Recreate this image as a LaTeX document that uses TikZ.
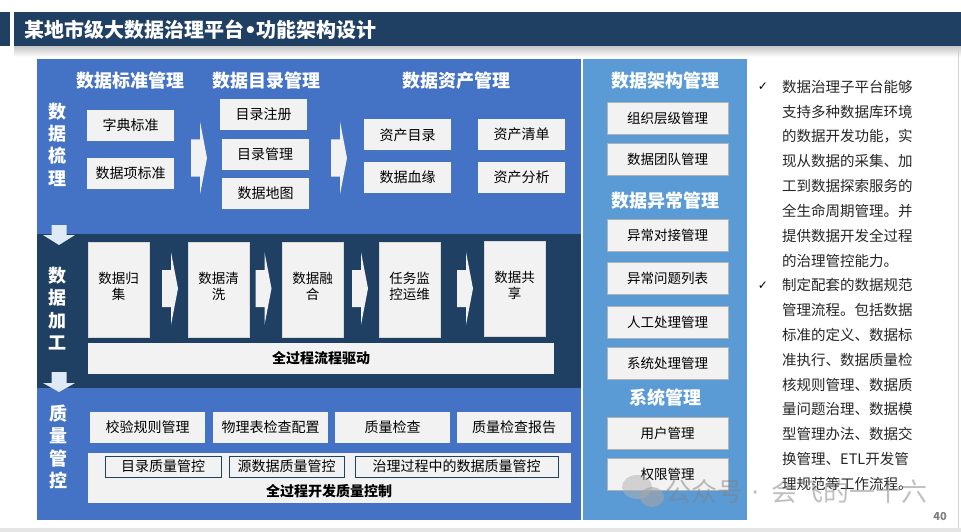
\documentclass[tikz,border=0pt]{standalone}
\usepackage{fontspec}
\setmainfont{Noto Sans CJK SC}
\newfontfamily\symfont{DejaVu Sans}
\usetikzlibrary{shadows}
\definecolor{navy}{HTML}{1F3F63}
\definecolor{panelblue}{HTML}{4472C4}
\definecolor{sideblue}{HTML}{5B9BD5}
\definecolor{boxgray}{HTML}{F2F2F2}
\definecolor{arrowblue}{HTML}{DEEBF7}
\newcommand\fsz[1]{\fontsize{#1}{#1}\selectfont}
\begin{document}
\begin{tikzpicture}[
  x=1pt,y=-1pt,
  head/.style={text=white, font=\fsz{18}\bfseries, inner sep=0pt},
  side/.style={text=white, font=\fontsize{18}{22.3}\selectfont\bfseries, align=center, inner sep=0pt},
  item/.style={fill=boxgray, minimum width=87pt, minimum height=31pt, inner sep=0pt, font=\fsz{14},
    drop shadow={opacity=.15, shadow xshift=1pt, shadow yshift=-1.5pt}},
  stage/.style={fill=boxgray, draw=gray!30, minimum width=61pt, minimum height=95pt, inner sep=0pt},
  stagetxt/.style={font=\fontsize{13.5}{16}\selectfont, align=center, inner sep=0pt},
  qitem/.style={fill=boxgray, minimum width=115pt, minimum height=31pt, inner sep=0pt, font=\fsz{14}},
  subbox/.style={fill=boxgray, draw=navy, line width=1pt, minimum height=21pt, inner sep=0pt, font=\fsz{14}},
  ritem/.style={fill=boxgray, draw=gray!60, line width=.8pt, minimum width=121pt, minimum height=32pt, inner sep=0pt, font=\fsz{13.5}},
  note/.style={font=\fsz{14.5}, text=black!85, inner sep=0pt, anchor=west},
  chev/.pic={\fill[boxgray] (-8,-18.5) -- (1,-18.5) -- (1,-36.5) -- (8,0) -- (1,36.5) -- (1,18.5) -- (-8,18.5) -- cycle;}
]
\useasboundingbox (0,0) rectangle (961,532);
\fill[white] (0,0) rectangle (961,532);

\shade[top color=gray!45, bottom color=white] (14,46) rectangle (961,57);
\fill[navy] (0,12) rectangle (10,46);
\fill[navy] (14,12) rectangle (961,46);
\node[text=white, font=\fsz{20}\bfseries, anchor=west, inner sep=0pt] (title) at (24,29.5) {某地市级大数据治理平台{\symfont\bfseries •}功能架构设计};

\fill[panelblue] (37,59) rectangle (581,234);
\fill[navy] (37,234) rectangle (581,388);
\fill[panelblue] (37,388) rectangle (581,520);
\fill[sideblue] (583,59) rectangle (747,520);

\node[side] (labA) at (57.5,144.5) {数\\据\\梳\\理};
\node[side] (labB) at (57.5,308.5) {数\\据\\加\\工};
\node[side] (labC) at (58,447) {质\\量\\管\\控};

\fill[arrowblue] (51.5,225) -- (66.5,225) -- (66.5,235) -- (75,235) -- (59,245) -- (43,235) -- (51.5,235) -- cycle;
\fill[arrowblue] (51.5,372) -- (66.5,372) -- (66.5,383) -- (75,383) -- (59,392) -- (43,383) -- (51.5,383) -- cycle;

\node[head] (hdStd) at (130,81) {数据标准管理};
\node[head] (hdCat) at (266,81) {数据目录管理};
\node[head] (hdAst) at (456,81) {数据资产管理};

\node[item] (std1) at (130.5,125.5) {字典标准};
\node[item] (std2) at (130.5,173.5) {数据项标准};
\node[item] (cat1) at (263.5,114.5) {目录注册};
\node[item] (cat2) at (265,154.5) {目录管理};
\node[item] (cat3) at (265.5,193.5) {数据地图};
\node[item] (ast1) at (407.5,135) {资产目录};
\node[item] (ast2) at (521.5,134.5) {资产清单};
\node[item] (ast3) at (407.5,177) {数据血缘};
\node[item] (ast4) at (521.5,177) {资产分析};

\pic at (199,158) {chev};
\pic at (339,158) {chev};

\node[stage] (stg1) at (118.5,289.5) {};
\node[stage] (stg2) at (218.5,289.5) {};
\node[stage] (stg3) at (312.5,289.5) {};
\node[stage] (stg4) at (409.5,289.5) {};
\node[stage] (stg5) at (514.5,288.5) {};
\node[stagetxt] (stgt1) at (118.5,286) {数据归\\集};
\node[stagetxt] (stgt2) at (218.5,286) {数据清\\洗};
\node[stagetxt] (stgt3) at (312.5,286) {数据融\\合};
\node[stagetxt] (stgt4) at (409.5,286) {任务监\\控运维};
\node[stagetxt] (stgt5) at (514.5,285) {数据共\\享};

\pic at (170,288.5) {chev};
\pic at (263.5,288.5) {chev};
\pic at (360,288.5) {chev};
\pic at (465,288.5) {chev};

\node[fill=boxgray, minimum width=466pt, minimum height=31pt, inner sep=0pt, font=\fsz{14}\bfseries] (drive) at (321,358.5) {全过程流程驱动};

\node[qitem] (qc1) at (147.5,427.5) {校验规则管理};
\node[qitem] (qc2) at (270.5,427.5) {物理表检查配置};
\node[qitem] (qc3) at (392.5,427.5) {质量检查};
\node[qitem, minimum width=114pt] (qc4) at (514,427.5) {质量检查报告};

\node[fill=boxgray, minimum width=483pt, minimum height=50pt, inner sep=0pt] (qbase) at (329.5,478) {};
\node[subbox, minimum width=116pt] (sub1) at (163,466.5) {目录质量管控};
\node[subbox, minimum width=115pt] (sub2) at (286.5,466.5) {源数据质量管控};
\node[subbox, minimum width=203pt] (sub3) at (456.5,466.5) {治理过程中的数据质量管控};
\node[font=\fsz{14}\bfseries, inner sep=0pt] (qbaselbl) at (329,491) {全过程开发质量控制};

\node[head] (hdArc) at (665,81) {数据架构管理};
\node[head] (hdErr) at (665,201) {数据异常管理};
\node[head] (hdSys) at (665,398) {系统管理};

\node[ritem] (rp1) at (667.5,118) {组织层级管理};
\node[ritem] (rp2) at (667.5,159) {数据团队管理};
\node[ritem] (rp3) at (667.5,235.5) {异常对接管理};
\node[ritem] (rp4) at (667.5,278) {异常问题列表};
\node[ritem] (rp5) at (667.5,322.5) {人工处理管理};
\node[ritem] (rp6) at (667.5,363.5) {系统处理管理};
\node[ritem] (rp7) at (667.5,433) {用户管理};
\node[ritem] (rp8) at (667.5,474.5) {权限管理};

\node[font=\symfont\fsz{12}, inner sep=0pt] (ck1) at (763,87) {✓};
\node[font=\symfont\fsz{12}, inner sep=0pt] (ck2) at (763,285.4) {✓};
\foreach \txt [count=\i from 0] in {数据治理子平台能够, 支持多种数据库环境, 的数据开发功能，实,
  现从数据的采集、加, 工到数据探索服务的, 全生命周期管理。并, 提供数据开发全过程, 的治理管控能力。,
  制定配套的数据规范, 管理流程。包括数据, 标准的定义、数据标, 准执行、数据质量检,
  核规则管理、数据质, 量问题治理、数据模, 型管理办法、数据交, 换管理、ETL开发管, 理规范等工作流程。}
  \node[note] (ln\i) at (782,{87+24.8*\i}) {\txt};

\fill[gray!60, opacity=.5] (637,487) ellipse (15 and 12);
\fill[gray!70, opacity=.6] (652,497) ellipse (12 and 10);
\node[anchor=west, text=gray, opacity=.5, font=\fsz{26}, inner sep=0pt] (wmark) at (665,492) {公众号\hspace{8pt}{\symfont·}\hspace{12pt}会飞的一十六};

\draw[gray!35] (958.5,50) -- (958.5,528);
\fill[gray!20] (0,528) rectangle (961,532);
\node[font=\fsz{11}\bfseries, text=gray, inner sep=0pt] (pgno) at (940,517) {40};
\end{tikzpicture}
\end{document}
